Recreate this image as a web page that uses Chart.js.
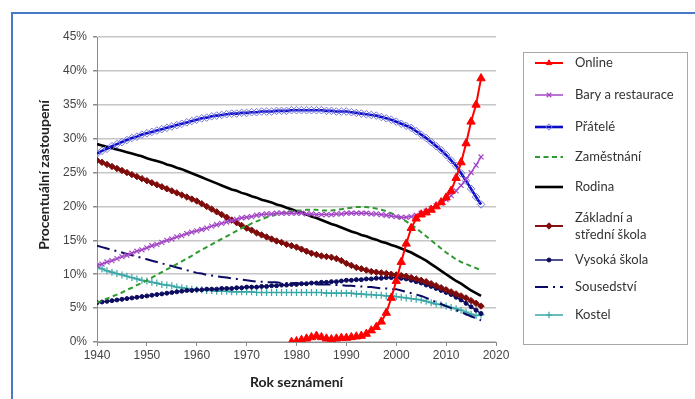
<!DOCTYPE html>
<html>
<head>
<meta charset="utf-8">
<script src="https://cdn.jsdelivr.net/npm/chart.js@4.4.1/dist/chart.umd.min.js"></script>
<style>
  html, body { margin: 0; padding: 0; overflow: hidden; background: #fff; }
  #frame { position: absolute; left: 11px; top: 12px; width: 720px; height: 420px; border: 2px solid #4a78c8; }
  #wrap { position: absolute; left: 0; top: 0; width: 695px; height: 399px; }
</style>
</head>
<body>
<div id="frame"></div>
<div id="wrap"><canvas id="chart" width="695" height="399"></canvas></div>
<script>
// yearly shares (%), 1940-2017
const firstYear = 1940
const onlineFirstYear = 1979

const online = [0.0, 0.1, 0.3, 0.5, 0.7, 0.9, 0.7, 0.5, 0.4, 0.5, 0.6,
  0.6, 0.7, 0.8, 0.9, 1.2, 1.7, 2.2, 3.0, 4.3, 6.5,
  9.0, 11.8, 14.5, 16.8, 18.2, 18.8, 19.1, 19.5, 20.0, 20.6,
  21.3, 22.3, 24.2, 26.5, 29.3, 32.5, 35.0, 38.9]

const bars = [11.3, 11.5, 11.8, 12.0, 12.3, 12.6, 12.8, 13.1, 13.4, 13.6,
  13.9, 14.2, 14.4, 14.7, 15.0, 15.2, 15.5, 15.7, 16.0, 16.2,
  16.4, 16.6, 16.8, 17.1, 17.3, 17.5, 17.7, 17.9, 18.1, 18.3,
  18.4, 18.5, 18.7, 18.8, 18.9, 18.9, 19.0, 19.0, 19.0, 19.0,
  19.0, 19.0, 18.9, 18.9, 18.8, 18.8, 18.8, 18.8, 18.9, 18.9,
  19.0, 19.0, 19.0, 19.0, 19.0, 18.9, 18.9, 18.8, 18.7, 18.6,
  18.5, 18.4, 18.4, 18.5, 18.7, 19.0, 19.3, 19.7, 20.1, 20.5,
  21.0, 21.6, 22.3, 23.1, 24.0, 25.0, 26.1, 27.3]

const friends = [27.8, 28.2, 28.5, 28.9, 29.2, 29.5, 29.8, 30.1, 30.3, 30.6,
  30.8, 31.0, 31.2, 31.4, 31.6, 31.8, 32.0, 32.2, 32.4, 32.6,
  32.8, 33.0, 33.1, 33.3, 33.4, 33.5, 33.6, 33.7, 33.7, 33.8,
  33.8, 33.9, 33.9, 34.0, 34.0, 34.0, 34.1, 34.1, 34.1, 34.2,
  34.2, 34.2, 34.2, 34.2, 34.2, 34.2, 34.1, 34.1, 34.0, 34.0,
  34.0, 33.9, 33.8, 33.7, 33.6, 33.5, 33.4, 33.2, 33.0, 32.8,
  32.5, 32.2, 31.9, 31.6, 31.1, 30.6, 30.1, 29.5, 28.9, 28.3,
  27.6, 26.8, 26.0, 24.9, 23.8, 22.6, 21.4, 20.3]

const work = [5.8, 6.1, 6.4, 6.7, 7.0, 7.3, 7.7, 8.0, 8.4, 8.7,
  9.1, 9.5, 9.9, 10.3, 10.7, 11.1, 11.5, 11.9, 12.3, 12.7,
  13.2, 13.6, 14.0, 14.4, 14.8, 15.2, 15.6, 16.0, 16.4, 16.8,
  17.1, 17.5, 17.8, 18.1, 18.4, 18.6, 18.8, 19.0, 19.2, 19.3,
  19.4, 19.4, 19.5, 19.5, 19.5, 19.4, 19.4, 19.4, 19.5, 19.6,
  19.7, 19.8, 19.9, 19.9, 19.9, 19.8, 19.7, 19.5, 19.3, 19.0,
  18.6, 18.2, 17.8, 17.3, 16.8, 16.2, 15.6, 15.0, 14.4, 13.8,
  13.2, 12.7, 12.2, 11.8, 11.5, 11.2, 10.9, 10.6]

const family = [29.2, 29.0, 28.8, 28.6, 28.4, 28.2, 28.0, 27.8, 27.6, 27.4,
  27.1, 26.9, 26.7, 26.5, 26.2, 26.0, 25.7, 25.5, 25.2, 24.9,
  24.6, 24.3, 24.0, 23.7, 23.4, 23.1, 22.8, 22.5, 22.3, 22.0,
  21.8, 21.5, 21.3, 21.0, 20.8, 20.6, 20.3, 20.1, 19.8, 19.6,
  19.3, 19.1, 18.8, 18.5, 18.3, 18.0, 17.7, 17.4, 17.2, 16.9,
  16.6, 16.3, 16.1, 15.8, 15.6, 15.3, 15.1, 14.8, 14.6, 14.3,
  14.1, 13.8, 13.5, 13.2, 12.8, 12.4, 12.0, 11.5, 11.0, 10.5,
  10.0, 9.5, 9.0, 8.6, 8.1, 7.6, 7.2, 6.8]

const school = [26.8, 26.5, 26.2, 25.9, 25.6, 25.3, 25.0, 24.7, 24.4, 24.1,
  23.8, 23.5, 23.2, 22.9, 22.6, 22.3, 22.0, 21.7, 21.4, 21.1,
  20.8, 20.4, 20.0, 19.6, 19.2, 18.8, 18.4, 18.0, 17.6, 17.2,
  16.8, 16.5, 16.1, 15.8, 15.5, 15.2, 14.9, 14.7, 14.4, 14.2,
  14.0, 13.7, 13.4, 13.1, 12.9, 12.7, 12.6, 12.5, 12.3, 12.0,
  11.6, 11.3, 11.0, 10.8, 10.6, 10.4, 10.3, 10.2, 10.1, 10.0,
  9.9, 9.8, 9.7, 9.5, 9.3, 9.1, 8.9, 8.6, 8.3, 8.0,
  7.7, 7.4, 7.1, 6.8, 6.5, 6.1, 5.7, 5.3]

const college = [5.8, 5.9, 6.0, 6.1, 6.2, 6.3, 6.4, 6.5, 6.6, 6.7,
  6.8, 6.9, 7.0, 7.1, 7.2, 7.3, 7.4, 7.5, 7.6, 7.6,
  7.7, 7.7, 7.8, 7.8, 7.8, 7.9, 7.9, 7.9, 8.0, 8.0,
  8.1, 8.1, 8.1, 8.2, 8.2, 8.3, 8.3, 8.4, 8.4, 8.5,
  8.5, 8.6, 8.6, 8.7, 8.7, 8.8, 8.8, 8.9, 8.9, 9.0,
  9.1, 9.1, 9.2, 9.2, 9.3, 9.3, 9.4, 9.4, 9.5, 9.5,
  9.5, 9.4, 9.3, 9.1, 8.9, 8.7, 8.4, 8.2, 7.9, 7.6,
  7.3, 7.0, 6.6, 6.2, 5.7, 5.2, 4.7, 4.2]

const neighbours = [14.2, 14.0, 13.8, 13.6, 13.4, 13.2, 13.0, 12.8, 12.6, 12.4,
  12.2, 12.0, 11.8, 11.6, 11.4, 11.2, 11.0, 10.8, 10.6, 10.4,
  10.2, 10.1, 9.9, 9.8, 9.7, 9.6, 9.5, 9.4, 9.3, 9.2,
  9.1, 9.0, 8.9, 8.9, 8.8, 8.8, 8.8, 8.7, 8.7, 8.7,
  8.7, 8.6, 8.6, 8.6, 8.5, 8.5, 8.5, 8.5, 8.4, 8.4,
  8.3, 8.3, 8.2, 8.2, 8.1, 8.1, 8.0, 7.9, 7.9, 7.8,
  7.8, 7.6, 7.4, 7.2, 7.0, 6.8, 6.5, 6.2, 5.9, 5.6,
  5.3, 5.0, 4.7, 4.4, 4.1, 3.8, 3.5, 3.2]

const church = [11.0, 10.8, 10.5, 10.3, 10.1, 9.9, 9.7, 9.5, 9.3, 9.1,
  9.0, 8.8, 8.7, 8.5, 8.4, 8.3, 8.1, 8.0, 7.9, 7.8,
  7.7, 7.7, 7.6, 7.6, 7.5, 7.5, 7.5, 7.4, 7.4, 7.4,
  7.4, 7.4, 7.3, 7.3, 7.3, 7.3, 7.3, 7.3, 7.3, 7.3,
  7.3, 7.3, 7.3, 7.3, 7.3, 7.3, 7.2, 7.2, 7.2, 7.2,
  7.2, 7.2, 7.1, 7.1, 7.0, 7.0, 6.9, 6.9, 6.8, 6.8,
  6.7, 6.6, 6.5, 6.4, 6.3, 6.2, 6.0, 5.8, 5.6, 5.5,
  5.3, 5.1, 4.9, 4.7, 4.4, 4.1, 3.9, 4.0]

const seriesNames = ['Online', 'Bary a restaurace', 'Přátelé', 'Zaměstnání', 'Rodina',
  ['Základní a', 'střední škola'], 'Vysoká škola', 'Sousedství', 'Kostel']

const xTicks = [1940, 1950, 1960, 1970, 1980, 1990, 2000, 2010, 2020]
const yMax = 45

function toPoints(start, values) {
  const pts = []
  for (let i = 0; i < values.length; i++) {
    pts.push({x: start + i, y: values[i]})
  }
  return pts
}

function series(i, data, style) {
  const name = seriesNames[i]
  return Object.assign({
    label: Array.isArray(name) ? name.join(' ') : name,
    data: data,
    fill: false,
    tension: 0,
    pointRadius: 0,
    pointHoverRadius: 0,
    borderWidth: 2
  }, style)
}

const datasets = [
  series(0, toPoints(onlineFirstYear, online), {
    borderColor: '#ff0000', pointStyle: 'triangle', pointRadius: 4.8,
    pointBackgroundColor: '#ff0000', pointBorderColor: '#ff0000', pointBorderWidth: 1
  }),
  series(1, toPoints(firstYear, bars), {
    borderColor: '#a346c6', borderWidth: 1.5, pointStyle: 'crossRot', pointRadius: 3.5,
    pointBorderColor: '#a346c6', pointBorderWidth: 1.2
  }),
  series(2, toPoints(firstYear, friends), {
    borderColor: '#0c0cc8', borderWidth: 2.6, pointStyle: 'rectRot', pointRadius: 3.8,
    pointBackgroundColor: 'rgba(255,255,255,0)', pointBorderColor: '#7474dc', pointBorderWidth: 1
  }),
  series(3, toPoints(firstYear, work), {
    borderColor: '#2f9a2f', borderDash: [5, 3.5], borderWidth: 2
  }),
  series(4, toPoints(firstYear, family), {
    borderColor: '#000000', borderWidth: 2.6
  }),
  series(5, toPoints(firstYear, school), {
    borderColor: '#8a1010', pointStyle: 'rectRot', pointRadius: 3.2,
    pointBackgroundColor: '#7e0a0a', pointBorderColor: '#7e0a0a', pointBorderWidth: 1
  }),
  series(6, toPoints(firstYear, college), {
    borderColor: '#15156e', borderWidth: 1.5, pointStyle: 'circle', pointRadius: 2,
    pointBackgroundColor: '#0c0c60', pointBorderColor: '#0c0c60', pointBorderWidth: 1
  }),
  series(7, toPoints(firstYear, neighbours), {
    borderColor: '#0a0a66', borderDash: [13, 5, 2, 5], borderWidth: 2
  }),
  series(8, toPoints(firstYear, church), {
    borderColor: '#3aa7a7', borderWidth: 1.5, pointStyle: 'cross', pointRadius: 3.5,
    pointBorderColor: '#3aa7a7', pointBorderWidth: 1.2
  })
]

// boxed legend on the right and the rotated y title
const sideLegend = {
  id: 'sideLegend',
  afterDraw(chart) {
    const ctx = chart.ctx
    ctx.save()
    ctx.setLineDash([])
    ctx.strokeStyle = '#a8a8a8'
    ctx.lineWidth = 1
    ctx.strokeRect(523.5, 52.5, 164, 292)

    const rows = [63, 95, 127, 157, 187, 226, 260, 287, 315]
    ctx.font = '13px Lato'
    ctx.textBaseline = 'middle'
    chart.data.datasets.forEach((ds, i) => {
      const y = rows[i]
      ctx.setLineDash(ds.borderDash || [])
      ctx.strokeStyle = ds.borderColor
      ctx.lineWidth = ds.borderWidth
      ctx.beginPath()
      ctx.moveTo(535, y)
      ctx.lineTo(563, y)
      ctx.stroke()
      ctx.setLineDash([])
      if (ds.pointRadius > 0) {
        ctx.fillStyle = ds.pointBackgroundColor || ds.borderColor
        ctx.strokeStyle = ds.pointBorderColor || ds.borderColor
        ctx.lineWidth = ds.pointBorderWidth || 1
        Chart.helpers.drawPoint(ctx, {
          pointStyle: ds.pointStyle, radius: Math.min(ds.pointRadius, 3.2),
          borderWidth: ds.pointBorderWidth || 1, rotation: 0
        }, 549, y)
      }
      ctx.fillStyle = '#333333'
      const name = seriesNames[i]
      if (Array.isArray(name)) {
        ctx.fillText(name[0], 575, y - 8)
        ctx.fillText(name[1], 575, y + 9)
      } else {
        ctx.fillText(name, 575, y)
      }
    })

    ctx.translate(44, 175)
    ctx.rotate(-Math.PI / 2)
    ctx.font = 'bold 14px Lato'
    ctx.fillStyle = '#222222'
    ctx.textAlign = 'center'
    ctx.fillText('Procentuální zastoupení', 0, 0)
    ctx.restore()
  }
}

const chart = new Chart(document.getElementById('chart').getContext('2d'), {
  type: 'line',
  data: {datasets: datasets},
  plugins: [sideLegend],
  options: {
    responsive: false,
    animation: false,
    devicePixelRatio: 1,
    layout: {padding: {left: 0, top: 37, right: 199, bottom: 0}},
    plugins: {legend: {display: false}, tooltip: {enabled: false}},
    scales: {
      x: {
        type: 'linear',
        min: xTicks[0],
        max: xTicks[xTicks.length - 1],
        afterFit: s => { s.height = 57 },
        afterBuildTicks: s => { s.ticks = xTicks.map(v => ({value: v})) },
        ticks: {
          padding: 2, color: '#444444', font: {family: 'Liberation Sans', size: 12},
          maxRotation: 0, callback: v => String(v)
        },
        grid: {drawOnChartArea: false, drawTicks: true, tickLength: 4, tickColor: '#8c8c8c'},
        border: {display: true, color: '#8c8c8c', width: 1},
        title: {
          display: true, text: 'Rok seznámení', color: '#222222',
          font: {family: 'Lato', size: 14, weight: 'bold'}, padding: {top: 0, bottom: 8}
        }
      },
      y: {
        min: 0,
        max: yMax,
        afterFit: s => { s.width = 97 },
        ticks: {
          stepSize: 5, padding: 6, color: '#444444',
          font: {family: 'Liberation Sans', size: 12}, callback: v => v + '%'
        },
        grid: {color: '#c6c6c6', lineWidth: 1.5, tickLength: 4, tickColor: '#8c8c8c'},
        border: {display: true, color: '#8c8c8c', width: 1}
      }
    }
  }
})
</script>
</body>
</html>
